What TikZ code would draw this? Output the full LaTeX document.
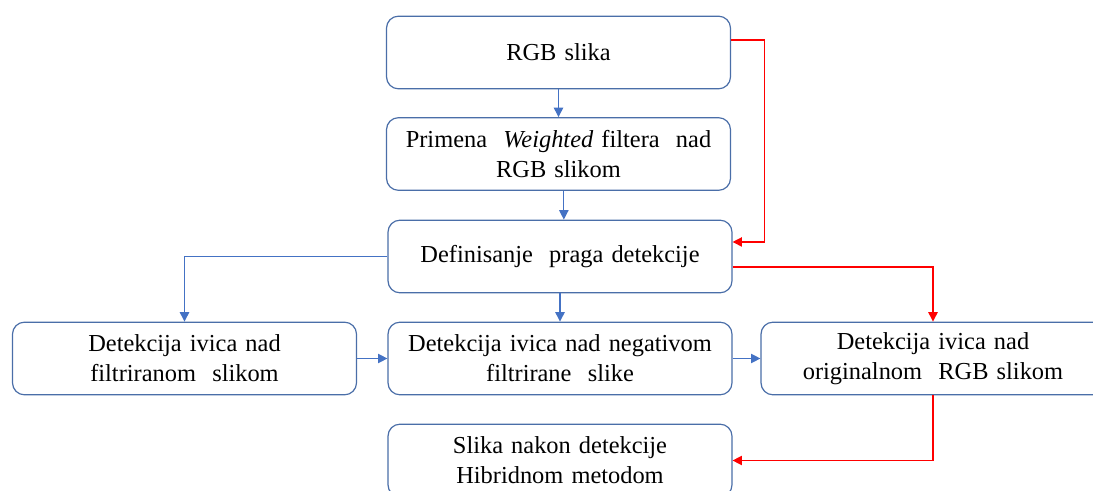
\documentclass[tikz,border=0pt]{standalone}
\usepackage{fontspec}
\setmainfont{Liberation Serif}
\usepackage{tikz}
\usetikzlibrary{arrows.meta,positioning}
\definecolor{okvir}{HTML}{4A6EA8}
\definecolor{plava}{HTML}{4472C4}
\definecolor{crvena}{HTML}{FF0000}

\begin{document}
\begin{tikzpicture}[x=0.75pt,y=-0.75pt,
  korak/.style={draw=okvir,line width=0.9pt,rounded corners=9pt,fill=white,
    minimum width=258pt,minimum height=54.5pt,text width=250pt,align=center,
    font=\fontsize{18.3}{22.5}\selectfont},
  tok/.style={plava,line width=0.9pt,-{Triangle[length=7pt,width=7pt]}},
  vrh/.style={crvena,line width=0.9pt,-{Triangle[length=7pt,width=7pt]}}]
  \useasboundingbox (0,0) rectangle (1093,491);
  \clip (0,0) rectangle (1093,491);

  % Top: input and filtering
  \node[korak] (rgb) at (558.5,52.5) {RGB slika};
  \node[korak] (primena) at (558.5,154) {Primena\ \ \textit{Weighted} filtera\ \ nad\\RGB slikom};
  \node[korak] (prag) at (560,256.5) {Definisanje\ \ praga detekcije};

  % Middle row: three detections
  \node[korak] (filtr) at (184.5,358.5) {Detekcija\ ivica nad\\filtriranom\ \ slikom};
  \node[korak] (negativ) at (560,358.5) {Detekcija\ ivica nad negativom\\filtrirane\ \ slike};
  \node[korak] (original) at (933,358.5) {Detekcija\ ivica nad\\originalnom\ \ RGB slikom};

  % Bottom: result
  \node[korak] (hibrid) at (560,460.5) {Slika nakon detekcije\\Hibridnom metodom};

  % Blue flow
  \draw[tok] (rgb) -- (primena);
  \draw[tok] ([xshift=4pt]primena.south) -- ([xshift=4pt]primena.south |- prag.north);
  \draw[tok] (prag.west) -| (filtr.north);
  \draw[tok] (prag) -- (negativ);
  \draw[tok] (filtr) -- (negativ);
  \draw[tok] (negativ) -- (original);

  % Red flow
  \draw[vrh] ([yshift=9.4pt]rgb.east) -- ++(33,0) |- ([yshift=10.9pt]prag.east);
  \draw[vrh] ([yshift=-7.9pt]prag.east) -| (original.north);
  \draw[vrh] (original.south) |- (hibrid.east);
\end{tikzpicture}
\end{document}
